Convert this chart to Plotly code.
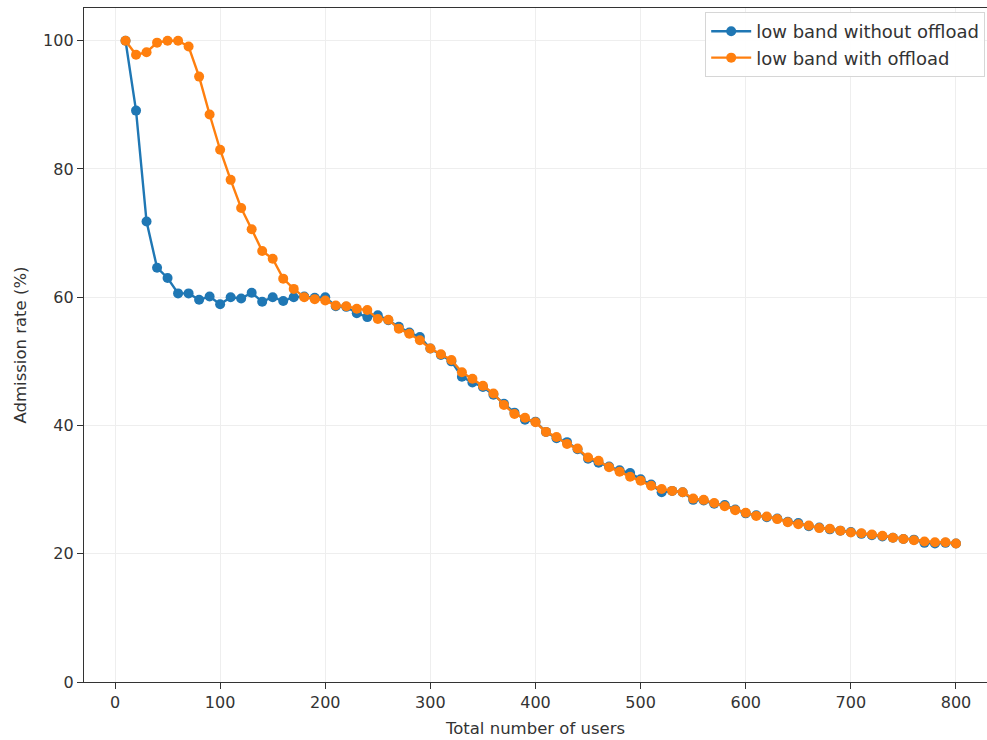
import plotly.graph_objects as go

users = [10, 20, 30, 40, 50, 60, 70, 80, 90, 100,
         110, 120, 130, 140, 150, 160, 170, 180, 190, 200,
         210, 220, 230, 240, 250, 260, 270, 280, 290, 300,
         310, 320, 330, 340, 350, 360, 370, 380, 390, 400,
         410, 420, 430, 440, 450, 460, 470, 480, 490, 500,
         510, 520, 530, 540, 550, 560, 570, 580, 590, 600,
         610, 620, 630, 640, 650, 660, 670, 680, 690, 700,
         710, 720, 730, 740, 750, 760, 770, 780, 790, 800]

without_offload = [100, 89.1, 71.8, 64.6, 63.0, 60.6, 60.6, 59.6, 60.1, 58.9,
                   60.0, 59.8, 60.7, 59.3, 60.0, 59.4, 60.0, 60.1, 59.9, 60.0,
                   58.6, 58.5, 57.5, 56.9, 57.2, 56.4, 55.4, 54.5, 53.8, 52.0,
                   51.0, 50.0, 47.6, 46.7, 46.0, 44.8, 43.4, 42.0, 40.9, 40.6,
                   39.0, 38.0, 37.4, 36.3, 34.8, 34.2, 33.6, 33.0, 32.6, 31.6,
                   30.8, 29.6, 29.8, 29.6, 28.4, 28.3, 27.8, 27.6, 26.9, 26.3,
                   26.0, 25.7, 25.5, 25.0, 24.8, 24.3, 24.1, 23.8, 23.6, 23.4,
                   23.1, 22.9, 22.7, 22.5, 22.3, 22.2, 21.7, 21.6, 21.7, 21.6]

with_offload = [100, 97.8, 98.2, 99.7, 100, 100, 99.1, 94.4, 88.5, 83.0,
                78.3, 73.9, 70.6, 67.2, 66.0, 62.9, 61.3, 60.0, 59.7, 59.5,
                58.7, 58.6, 58.2, 58.0, 56.6, 56.5, 55.1, 54.3, 53.3, 52.0,
                51.1, 50.2, 48.3, 47.3, 46.2, 45.0, 43.2, 41.8, 41.2, 40.5,
                39.0, 38.2, 37.1, 36.4, 35.0, 34.5, 33.5, 32.8, 32.0, 31.4,
                30.6, 30.1, 29.8, 29.6, 28.6, 28.4, 27.9, 27.4, 26.8, 26.4,
                25.9, 25.8, 25.4, 24.9, 24.6, 24.4, 24.0, 23.9, 23.6, 23.3,
                23.2, 23.0, 22.8, 22.5, 22.3, 22.1, 21.9, 21.8, 21.8, 21.6]

x_ticks = [0, 100, 200, 300, 400, 500, 600, 700, 800]
y_ticks = [0, 20, 40, 60, 80, 100]

fig = go.Figure()
fig.add_trace(go.Scatter(
    x=users, y=without_offload, mode="lines+markers",
    name="low band without offload",
    line=dict(color="#1f77b4", width=2.4),
    marker=dict(color="#1f77b4", size=10),
))
fig.add_trace(go.Scatter(
    x=users, y=with_offload, mode="lines+markers",
    name="low band with offload",
    line=dict(color="#ff7f0e", width=2.4),
    marker=dict(color="#ff7f0e", size=10),
))

font_family = "DejaVu Sans"
txt = "#333333"
fig.update_layout(
    width=987, height=740,
    margin=dict(l=84, r=0, t=8, b=58),
    paper_bgcolor="white", plot_bgcolor="white",
    font=dict(family=font_family, size=16, color=txt),
    showlegend=True,
    legend=dict(
        x=0.998, y=0.994, xanchor="right", yanchor="top",
        bgcolor="rgba(255,255,255,0.9)", bordercolor="#d6d6d6", borderwidth=1,
        font=dict(family=font_family, size=18, color=txt),
        itemwidth=40, tracegroupgap=0,
    ),
    xaxis=dict(
        range=[-29.5, 829.5], tickmode="array", tickvals=x_ticks,
        ticks="outside", ticklen=6, tickcolor=txt,
        tickfont=dict(size=16, color=txt),
        showline=True, linecolor=txt, linewidth=1.3, mirror=True,
        showgrid=True, gridcolor="#eeeeee", gridwidth=1, zeroline=False,
        title=dict(text="Total number of users", font=dict(size=16.5, color=txt), standoff=11),
    ),
    yaxis=dict(
        range=[0, 105.1], tickmode="array", tickvals=y_ticks,
        ticks="outside", ticklen=6, tickcolor=txt,
        tickfont=dict(size=16, color=txt),
        showline=True, linecolor=txt, linewidth=1.3,
        showgrid=True, gridcolor="#eeeeee", gridwidth=1, zeroline=False,
        title=dict(text="Admission rate (%)", font=dict(size=16.5, color=txt), standoff=12),
    ),
)

fig.write_html("out.html")
